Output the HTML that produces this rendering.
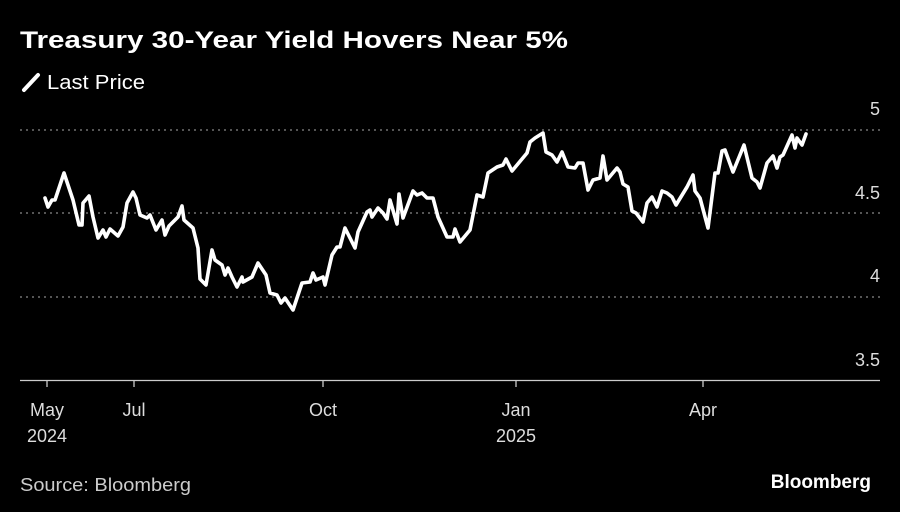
<!DOCTYPE html>
<html><head><meta charset="utf-8"><style>
html,body{margin:0;padding:0;background:#000;}
body{width:900px;height:507px;overflow:hidden;font-family:"Liberation Sans",sans-serif;}
</style></head><body>
<svg width="900" height="507" xmlns="http://www.w3.org/2000/svg" font-family="Liberation Sans, sans-serif">
<rect width="900" height="507" fill="#000"/>
<text x="20" y="48" fill="#fff" font-size="24" font-weight="bold" textLength="548" lengthAdjust="spacingAndGlyphs">Treasury 30-Year Yield Hovers Near 5%</text>
<line x1="24" y1="90" x2="38" y2="75" stroke="#fff" stroke-width="4" stroke-linecap="round"/>
<text x="47" y="89" fill="#fff" font-size="20" textLength="98" lengthAdjust="spacingAndGlyphs">Last Price</text>
<g stroke="#888" stroke-width="1.3" stroke-dasharray="2,4">
<line x1="20" y1="130" x2="880" y2="130"/>
<line x1="20" y1="213" x2="880" y2="213"/>
<line x1="20" y1="297" x2="880" y2="297"/>
</g>
<line x1="20" y1="380.5" x2="880" y2="380.5" stroke="#ccc" stroke-width="1.3"/>
<g stroke="#ccc" stroke-width="1.3">
<line x1="47" y1="380" x2="47" y2="387"/><line x1="134" y1="380" x2="134" y2="387"/>
<line x1="323" y1="380" x2="323" y2="387"/><line x1="516" y1="380" x2="516" y2="387"/>
<line x1="703" y1="380" x2="703" y2="387"/>
</g>
<g fill="#ddd" font-size="18" text-anchor="end">
<text x="880" y="115">5</text><text x="880" y="199">4.5</text>
<text x="880" y="282">4</text><text x="880" y="366">3.5</text>
</g>
<g fill="#ddd" font-size="18" text-anchor="middle">
<text x="47" y="416">May</text><text x="47" y="442">2024</text>
<text x="134" y="416">Jul</text><text x="323" y="416">Oct</text>
<text x="516" y="416">Jan</text><text x="516" y="442">2025</text>
<text x="703" y="416">Apr</text>
</g>
<polyline fill="none" stroke="#fff" stroke-width="3.6" stroke-linejoin="round" stroke-linecap="round" points="45,198 48,207 52,200 55,200 64,173 68,185 73,200 79,225 82,225 83,203 89,196 93,217 98,238 103,230 106,237 110,229 118,236 123,227 127,203 133,192 136,198 140,215 147,218 150,215 156,230 162,220 165,235 169,226 178,217 182,206 184,220 193,228 198,248 200,279 206,285 212,250 215,260 222,265 225,275 228,268 232,277 237,287 242,277 243,282 252,277 258,263 266,275 270,293 277,295 281,303 285,298 293,310 302,283 310,282 313,273 316,280 323,277 325,285 332,255 337,247 340,247 345,228 355,248 358,232 367,212 370,210 372,217 378,208 383,213 387,219 390,200 397,224 399,194 403,218 413,191 417,195 422,193 427,198 433,198 438,217 447,237 453,237 455,229 460,242 470,230 477,195 483,197 488,173 497,167 503,165 506,159 512,171 517,165 527,153 530,142 535,138 543,133 546,152 552,155 557,162 562,152 568,167 575,168 578,163 583,163 588,190 593,180 600,178 603,156 607,180 617,168 620,172 623,184 628,187 632,211 636,213 643,222 647,203 652,197 657,207 662,191 667,193 672,197 676,205 687,187 693,175 695,191 700,198 708,228 715,173 718,173 722,151 725,150 733,172 744,145 752,178 757,182 760,188 767,163 773,156 777,168 780,157 783,155 792,135 795,148 797,138 802,145 806,134"/>
<text x="20" y="491" fill="#ccc" font-size="18" textLength="171" lengthAdjust="spacingAndGlyphs">Source: Bloomberg</text>
<text x="871" y="488" fill="#fff" font-size="19" font-weight="bold" text-anchor="end">Bloomberg</text>
</svg>
</body></html>
